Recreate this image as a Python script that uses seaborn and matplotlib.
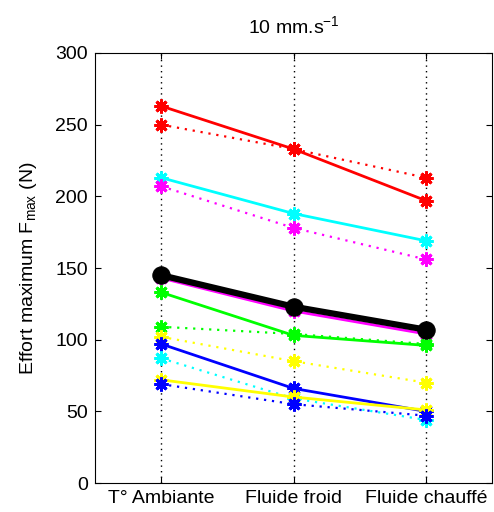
import matplotlib
matplotlib.use("Agg")
import matplotlib.pyplot as plt
import seaborn as sns
import pandas as pd

categories = ["T° Ambiante", "Fluide froid", "Fluide chauffé"]
x_pos = [1, 2, 3]

red_solid = [263, 233, 197]
red_dotted = [250, 233, 213]
cyan_solid = [213, 188, 169]
magenta_dotted = [207, 178, 156]
magenta_solid = [143, 120, 104]
green_solid = [133, 103, 96]
green_dotted = [109, 104, 97]
yellow_dotted = [102, 85, 70]
blue_solid = [97, 66, 50]
cyan_dotted = [87, 59, 44]
yellow_solid = [72, 60, 51]
blue_dotted = [69, 55, 47]
black_mean = [145, 123, 107]

yticks = [0, 50, 100, 150, 200, 250, 300]

sns.set_theme(style="white")
plt.rcParams['font.family'] = ['Liberation Sans', 'DejaVu Sans']
plt.rcParams['mathtext.fontset'] = 'custom'
plt.rcParams['mathtext.rm'] = 'Liberation Sans'
plt.rcParams['mathtext.it'] = 'Liberation Sans'
plt.rcParams['mathtext.default'] = 'regular'

fig = plt.figure(figsize=(4.94, 5.12), dpi=100)
ax = fig.add_axes([0.1923, 0.0566, 0.8037, 0.8399])

for xp in x_pos:
    ax.axvline(xp, color="black", linestyle=(0, (1, 3)), linewidth=1.0, zorder=0)

series = [
    (red_solid, (1, 0, 0), "-"),
    (red_dotted, (1, 0, 0), ":"),
    (cyan_solid, (0, 1, 1), "-"),
    (magenta_dotted, (1, 0, 1), ":"),
    (magenta_solid, (1, 0, 1), "-"),
    (green_solid, (0, 1, 0), "-"),
    (green_dotted, (0, 1, 0), ":"),
    (yellow_dotted, (1, 1, 0), ":"),
    (blue_solid, (0, 0, 1), "-"),
    (cyan_dotted, (0, 1, 1), ":"),
    (yellow_solid, (1, 1, 0), "-"),
    (blue_dotted, (0, 0, 1), ":"),
]

for vals, col, ls in series:
    df = pd.DataFrame({"x": x_pos, "y": vals})
    line_ls = "-" if ls == "-" else (0, (1, 2.6))
    n_before = len(ax.lines)
    sns.lineplot(data=df, x="x", y="y", ax=ax, color=col, linestyle=line_ls,
                 linewidth=2.0 if ls == "-" else 1.6, zorder=2)
    for ln in ax.lines[n_before:]:
        ln.set_marker((8, 2, 0))
        ln.set_markersize(10)
        ln.set_markeredgewidth(2.1)
        ln.set_markeredgecolor(col)
        ln.set_markerfacecolor(col)

df = pd.DataFrame({"x": x_pos, "y": black_mean})
n_before = len(ax.lines)
sns.lineplot(data=df, x="x", y="y", ax=ax, color="black", linewidth=4.5, zorder=3)
for ln in ax.lines[n_before:]:
    ln.set_marker("o")
    ln.set_markersize(12.5)
    ln.set_markeredgecolor("black")
    ln.set_markerfacecolor("black")

ax.set_xlim(0.5, 3.5)
ax.set_ylim(0, 300)
ax.set_xticks(x_pos)
ax.set_xticklabels(categories)
ax.set_yticks(yticks)
ax.set_yticklabels([str(t) for t in yticks])
ax.tick_params(axis="both", direction="in", length=4, width=0.8, colors="black",
               labelsize=14, top=True, right=True, bottom=True, left=True, pad=5)
for sp in ax.spines.values():
    sp.set_visible(True)
    sp.set_color("black")
    sp.set_linewidth(0.8)

ax.set_xlabel("")
ax.set_ylabel("Effort maximum F$_{max}$ (N)", fontsize=14, color="black", labelpad=12)
ax.set_title("10 mm.s$^{-1}$", fontsize=14, color="black", pad=14)
ax.grid(False)

fig.savefig("out.png", dpi=100, facecolor="white")
